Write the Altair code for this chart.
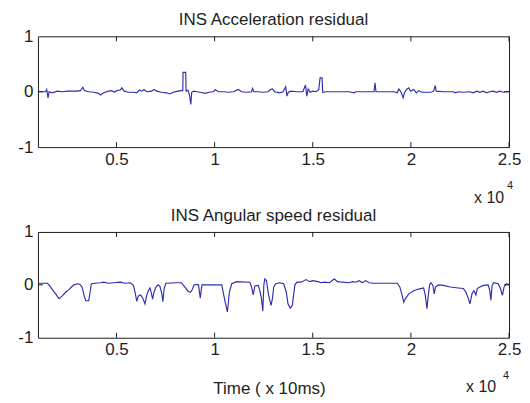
import altair as alt
import pandas as pd

# ---------------- data ----------------
acc_t = [1000, 1396, 1447, 1515, 1565, 1734, 1987, 2240, 2492, 2745,
         2998, 3167, 3285, 3369, 3588, 3841, 4094, 4178, 4347, 4600,
         4769, 4887, 5021, 5190, 5274, 5392, 5612, 5864, 6033, 6168,
         6286, 6404, 6539, 6792, 6910, 7045, 7298, 7550, 7719, 7888,
         8141, 8310, 8380, 8393, 8528, 8545, 8646, 8731, 8790, 8832,
         8933, 9100, 9270, 9523, 9691, 9944, 10029, 10197, 10450, 10703,
         10956, 11209, 11377, 11630, 11883, 11934, 12001, 12220, 12473, 12726,
         12844, 12945, 13063, 13316, 13485, 13620, 13687, 13755, 13906, 14159,
         14496, 14631, 14699, 14766, 14867, 15002, 15171, 15306, 15373, 15474,
         15508, 15677, 16857, 17110, 17194, 18122, 18172, 18222, 19133, 19302,
         19386, 19504, 19605, 19672, 19774, 19892, 19976, 20145, 20280, 20397,
         20566, 21021, 21156, 21240, 21291, 21662, 22168, 22252, 22421, 22674,
         23011, 23180, 23348, 23517, 23685, 23854, 24022, 24191, 24360, 24528,
         24697, 24865, 25000]
acc_v = [0.0, 0.0, 0.04, -0.11, 0.0, -0.02, 0.01, 0.0, 0.01, 0.01,
         0.01, 0.02, 0.08, 0.02, 0.0, -0.01, -0.03, -0.06, -0.02, 0.01,
         0.02, -0.01, 0.02, 0.03, 0.07, 0.01, -0.01, -0.01, -0.02, 0.03,
         0.01, 0.04, 0.0, 0.01, 0.04, 0.01, -0.01, -0.02, -0.04, -0.01,
         0.01, 0.02, 0.02, 0.35, 0.35, 0.01, 0.03, -0.08, -0.23, -0.01,
         0.01, 0.0, -0.01, -0.03, -0.01, 0.0, 0.04, 0.0, 0.0, -0.01,
         0.0, 0.04, 0.0, -0.01, 0.0, 0.06, 0.0, 0.0, -0.01, 0.0,
         0.04, 0.05, 0.0, -0.02, 0.0, 0.09, -0.08, -0.01, 0.01, 0.0,
         0.0, 0.12, -0.08, 0.05, -0.01, 0.01, 0.0, 0.04, 0.25, 0.25,
         -0.01, 0.0, 0.0, -0.02, 0.0, 0.0, 0.16, 0.0, 0.0, -0.02,
         0.05, -0.01, -0.11, -0.02, 0.04, 0.07, 0.01, 0.04, -0.02, 0.02,
         -0.01, -0.01, 0.01, 0.11, 0.01, 0.0, 0.0, -0.02, 0.0, -0.01,
         0.0, -0.02, 0.01, -0.01, 0.01, -0.02, 0.0, 0.01, -0.01, 0.01,
         -0.01, 0.0, 0.0]

ang_t = [1000, 1480, 1565, 1734, 1902, 2071, 2240, 2408, 2577, 2660,
         2830, 2998, 3130, 3251, 3369, 3436, 3588, 3656, 3723, 3925,
         4178, 4347, 4600, 4853, 5190, 5443, 5696, 5864, 5949, 6033,
         6117, 6235, 6336, 6455, 6539, 6623, 6708, 6775, 6842, 6910,
         7011, 7129, 7214, 7314, 7365, 7432, 7516, 8056, 8310, 8478,
         8646, 8764, 8865, 8933, 9034, 9180, 9270, 9354, 9500, 10366,
         10535, 10652, 10753, 10871, 11124, 11799, 11883, 11967, 12051, 12220,
         12304, 12389, 12456, 12507, 12557, 12642, 12726, 12810, 12878, 12945,
         13013, 13114, 13316, 13519, 13654, 13738, 13856, 13957, 14024, 14092,
         14193, 14412, 14665, 14834, 15002, 15255, 15424, 15593, 15846, 16098,
         16267, 16520, 16857, 17026, 17194, 17363, 17531, 17700, 17868, 18122,
         19302, 19437, 19555, 19639, 19723, 19892, 20145, 20397, 20650, 20735,
         20819, 20886, 20954, 21021, 21122, 21190, 21257, 21409, 21662, 21999,
         22421, 22674, 22808, 22926, 23011, 23112, 23213, 23314, 23382, 23517,
         23685, 23938, 24022, 24073, 24140, 24225, 24444, 24562, 24663, 24747,
         24865, 25000]
ang_v = [0.03, 0.03, 0.0, -0.09, -0.17, -0.26, -0.21, -0.14, -0.09, -0.06,
         0.0, 0.02, 0.01, -0.04, -0.23, -0.30, -0.30, -0.14, 0.02, 0.03,
         0.04, 0.05, 0.03, 0.04, 0.05, 0.03, 0.04, -0.01, -0.14, -0.31,
         -0.21, -0.19, -0.25, -0.36, -0.20, -0.11, -0.06, -0.15, -0.27, -0.14,
         -0.04, 0.0, -0.03, -0.17, -0.32, -0.07, 0.03, 0.04, 0.04, -0.04,
         -0.12, -0.14, -0.09, -0.01, 0.01, 0.0, -0.25, 0.0, 0.0, 0.0,
         -0.32, -0.51, -0.14, 0.02, 0.06, 0.05, -0.04, -0.19, -0.02, -0.01,
         -0.11, -0.26, -0.50, -0.01, 0.11, 0.08, -0.14, -0.29, -0.39, -0.26,
         -0.04, 0.02, 0.04, 0.02, -0.14, -0.36, -0.44, -0.39, -0.20, 0.0,
         0.05, 0.05, 0.10, 0.06, 0.08, 0.06, 0.04, 0.05, 0.04, 0.11,
         0.06, 0.05, 0.04, 0.06, 0.05, 0.08, 0.04, 0.08, 0.04, 0.03,
         0.03, -0.04, -0.20, -0.33, -0.26, -0.17, -0.11, -0.08, -0.06, -0.20,
         -0.45, -0.20, 0.0, 0.04, -0.01, -0.17, -0.04, 0.0, -0.01, -0.04,
         -0.06, -0.07, -0.14, -0.26, -0.36, -0.17, -0.11, -0.19, -0.07, -0.04,
         -0.01, 0.0, -0.11, -0.29, -0.01, 0.04, 0.02, -0.07, -0.20, -0.04,
         0.02, 0.0]

x_ticks = [5000, 10000, 15000, 20000, 25000]
y_ticks = [-1, 0, 1]
panel_titles = ["INS Acceleration residual", "INS Angular speed residual"]
exp_base = ["x 10"]
exp_sup = ["4"]
x_title = ["Time ( x 10ms)"]

# ---------------- styling ----------------
FONT = "Liberation Sans"
TXT = "#1e1e1e"
LINE = "#2e2eac"
W = 472
TICK = 5


def panel(t, v, title, h, exp_pos, sup_pos, show_xtitle=False):
    df = pd.DataFrame({"t": t, "v": v})
    x = alt.X("t:Q",
              scale=alt.Scale(domain=[1000, 25000], nice=False, zero=False),
              axis=alt.Axis(values=x_ticks,
                            labelExpr="toString(datum.value / 10000)",
                            ticks=False, domain=False, grid=False,
                            labelPadding=4, labelFontSize=17, labelFlush=False,
                            title=None))
    y = alt.Y("v:Q",
              scale=alt.Scale(domain=[-1, 1], nice=False),
              axis=alt.Axis(values=y_ticks, labelExpr="toString(datum.value)",
                            ticks=False, domain=False,
                            grid=False, labelPadding=5, labelFontSize=17,
                            title=None))
    line = alt.Chart(df).mark_line(color=LINE, strokeWidth=1.15).encode(x=x, y=y)

    xt = pd.DataFrame({"t": x_ticks})
    top_ticks = alt.Chart(xt).mark_rule(color=TXT).encode(
        x=x, y=alt.value(0), y2=alt.value(TICK))
    bot_ticks = alt.Chart(xt).mark_rule(color=TXT).encode(
        x=x, y=alt.value(h - TICK), y2=alt.value(h))
    yt = pd.DataFrame({"v": [0]})
    left_ticks = alt.Chart(yt).mark_rule(color=TXT).encode(
        y=y, x=alt.value(0), x2=alt.value(TICK))
    right_ticks = alt.Chart(yt).mark_rule(color=TXT).encode(
        y=y, x=alt.value(W - TICK), x2=alt.value(W))

    base = alt.Chart(pd.DataFrame({"s": exp_base})).mark_text(
        font=FONT, fontSize=16, color=TXT, baseline="middle", align="center"
    ).encode(text="s:N", x=alt.value(exp_pos[0]), y=alt.value(exp_pos[1]))
    sup = alt.Chart(pd.DataFrame({"s": exp_sup})).mark_text(
        font=FONT, fontSize=11, color=TXT, baseline="middle", align="center"
    ).encode(text="s:N", x=alt.value(sup_pos[0]), y=alt.value(sup_pos[1]))

    layers = [line, top_ticks, bot_ticks, left_ticks, right_ticks, base, sup]
    if show_xtitle:
        xtl = alt.Chart(pd.DataFrame({"s": x_title})).mark_text(
            font=FONT, fontSize=17, color=TXT, baseline="middle", align="center"
        ).encode(text="s:N", x=alt.value(232), y=alt.value(157))
        layers.append(xtl)

    return alt.layer(*layers).properties(
        width=W, height=h,
        title=alt.TitleParams(title, fontSize=17, fontWeight="normal",
                              font=FONT, color=TXT, offset=-2, frame="group"),
    )


top = panel(acc_t, acc_v, panel_titles[0], 111, (452, 162), (473, 150))
bottom = panel(ang_t, ang_v, panel_titles[1], 106, (444, 155), (469, 144),
               show_xtitle=True)

chart = alt.vconcat(top, bottom, spacing=85, bounds="flush").properties(
    padding={"left": 9, "top": 2, "right": 0, "bottom": 0},
    background="white",
).configure_view(stroke=TXT, strokeWidth=1).configure_axis(
    labelFont=FONT, labelColor=TXT
)

chart.save("out.html", embed_options={"renderer": "svg", "actions": False})
